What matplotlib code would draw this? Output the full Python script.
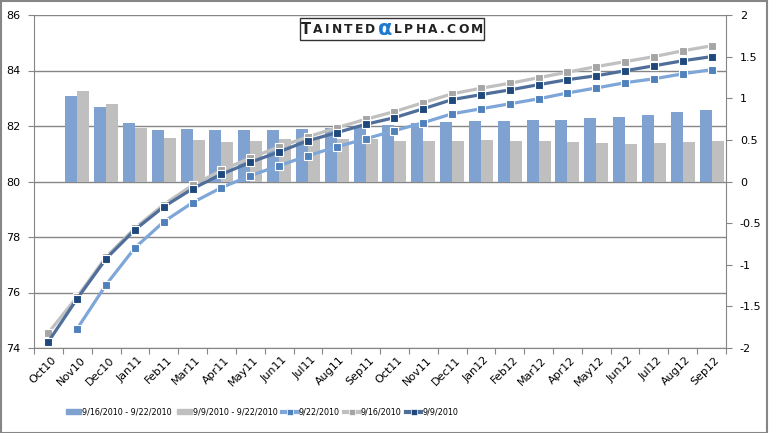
import matplotlib
matplotlib.use("Agg")
from matplotlib import pyplot as plt
from matplotlib import font_manager
from matplotlib.patches import Rectangle, Patch
from matplotlib.lines import Line2D
from matplotlib.offsetbox import TextArea, HPacker, AnnotationBbox
import numpy as np

months = ['Oct10', 'Nov10', 'Dec10', 'Jan11', 'Feb11', 'Mar11', 'Apr11', 'May11',
          'Jun11', 'Jul11', 'Aug11', 'Sep11', 'Oct11', 'Nov11', 'Dec11', 'Jan12',
          'Feb12', 'Mar12', 'Apr12', 'May12', 'Jun12', 'Jul12', 'Aug12', 'Sep12']

# bar series (right axis) - change between dates
chg_16_22 = [np.nan, 1.03, 0.90, 0.70, 0.62, 0.63, 0.62, 0.62, 0.62, 0.63, 0.64, 0.66,
             0.68, 0.70, 0.71, 0.73, 0.73, 0.74, 0.74, 0.76, 0.77, 0.80, 0.83, 0.86]
chg_9_22 = [np.nan, 1.09, 0.93, 0.64, 0.52, 0.50, 0.47, 0.49, 0.51, 0.51, 0.51, 0.51,
            0.49, 0.49, 0.49, 0.50, 0.49, 0.49, 0.47, 0.46, 0.45, 0.46, 0.47, 0.49]

# line series (left axis)
sep22 = [np.nan, 74.70, 76.28, 77.61, 78.55, 79.24, 79.78, 80.21, 80.57, 80.93, 81.25, 81.54,
         81.83, 82.12, 82.44, 82.62, 82.80, 82.98, 83.19, 83.37, 83.56, 83.70, 83.88, 84.03]
sep16 = [74.55, 75.85, 77.28, 78.32, 79.17, 79.87, 80.40, 80.85, 81.25, 81.61, 81.94, 82.24,
         82.52, 82.84, 83.16, 83.36, 83.54, 83.74, 83.94, 84.14, 84.32, 84.50, 84.71, 84.89]
sep9 = [74.23, 75.78, 77.22, 78.26, 79.09, 79.74, 80.26, 80.69, 81.07, 81.47, 81.76, 82.06,
        82.30, 82.62, 82.95, 83.13, 83.30, 83.49, 83.67, 83.81, 83.99, 84.17, 84.35, 84.50]

legend_labels = ['9/16/2010 - 9/22/2010', '9/9/2010 - 9/22/2010', '9/22/2010', '9/16/2010', '9/9/2010']

grid_c = '#868686'
bar_blue = '#7FA2D0'
bar_gray = '#BFBFBF'

# narrow font for the legend if there is one
try:
    font_manager.findfont('Liberation Sans Narrow', fallback_to_default=False)
    leg_font = dict(family='Liberation Sans Narrow', size=7.5)
except Exception:
    leg_font = dict(family='DejaVu Sans', size=5.8)

fig = plt.figure(figsize=(7.69, 4.33), dpi=100)
fig.patch.set_facecolor('white')
pos = [34/769, 1-348/433, 692/769, 333/433]

x = np.arange(len(months))

# background axes: grid only
bg = fig.add_axes(pos, zorder=0)
bg.set_xlim(-0.5, 23.5)
bg.set_ylim(74, 86)
bg.set_yticks(np.arange(74, 87, 2))
bg.yaxis.grid(True, color=grid_c, lw=1)
bg.set_xticks([])
bg.tick_params(left=False, labelleft=False)
for s in bg.spines.values():
    s.set_visible(False)

# bars on right scale
ax2 = fig.add_axes(pos, zorder=1)
ax2.patch.set_visible(False)
w = 0.417
ax2.bar(x - w/2, chg_16_22, w, color=bar_blue)
ax2.bar(x + w/2, chg_9_22, w, color=bar_gray)
ax2.set_xlim(-0.5, 23.5)
ax2.set_ylim(-2, 2)
ax2.set_yticks(np.arange(-2, 2.01, 0.5))
ax2.set_yticklabels(['-2', '-1.5', '-1', '-0.5', '0', '0.5', '1', '1.5', '2'])
ax2.yaxis.tick_right()
ax2.tick_params(axis='y', direction='out', length=4, color=grid_c, labelsize=8, pad=6)
ax2.set_xticks([])
for s in ['left', 'top', 'bottom']:
    ax2.spines[s].set_visible(False)
ax2.spines['right'].set_color(grid_c)

# lines on left scale
ax = fig.add_axes(pos, zorder=2)
ax.patch.set_visible(False)
ax.plot(x, sep22, color='#7FA6D8', lw=2.3, marker='s', ms=5.2, mfc='#4F81BD', mec='white', mew=0.8)
ax.plot(x, sep16, color='#C0C0C0', lw=2.3, marker='s', ms=5.2, mfc='#A5A5A5', mec='white', mew=0.8)
ax.plot(x, sep9, color='#4F6E9A', lw=2.3, marker='s', ms=5.2, mfc='#1F497D', mec='white', mew=0.8)
ax.set_xlim(-0.5, 23.5)
ax.set_ylim(74, 86)
ax.set_yticks(np.arange(74, 87, 2))
ax.tick_params(axis='y', direction='out', length=4, color=grid_c, labelsize=8, pad=6)
ax.set_xticks(np.arange(-0.5, 24, 1))
ax.set_xticklabels([])
ax.set_xticks(x + 0.1, minor=True)
ax.set_xticklabels(months, minor=True, rotation=45, ha='right', va='top',
                   rotation_mode='anchor', fontsize=8)
ax.tick_params(axis='x', which='major', direction='out', length=4, color=grid_c)
ax.tick_params(axis='x', which='minor', length=0, pad=5)
for s in ['top', 'right']:
    ax.spines[s].set_visible(False)
ax.spines['left'].set_color(grid_c)
ax.spines['bottom'].set_color(grid_c)

# watermark
ink = '#222222'
parts = [TextArea('T', textprops=dict(size=10.5, weight='bold', color=ink))]
parts += [TextArea(c, textprops=dict(size=8.8, weight='bold', color=ink)) for c in 'AINTED']
parts += [TextArea('\u03b1', textprops=dict(size=15, weight='bold', color='#1F7BD0'))]
parts += [TextArea(c, textprops=dict(size=8.8, weight='bold', color=ink)) for c in 'LPHA.COM']
pack = HPacker(children=parts, align='center', pad=0, sep=1.6)
ab = AnnotationBbox(pack, (0.517, 0.957), xycoords='axes fraction', frameon=True,
                    box_alignment=(0.5, 0.5), pad=0.08,
                    bboxprops=dict(edgecolor='#333333', facecolor='white', lw=1))
ax.add_artist(ab)

# legend
handles = [Patch(color=bar_blue), Patch(color=bar_gray),
           Line2D([], [], color='#7FA6D8', lw=3, marker='s', ms=4, mfc='#4F81BD', mec='white', mew=0.5),
           Line2D([], [], color='#C0C0C0', lw=3, marker='s', ms=4, mfc='#A5A5A5', mec='white', mew=0.5),
           Line2D([], [], color='#4F6E9A', lw=3, marker='s', ms=4, mfc='#1F497D', mec='white', mew=0.5)]
fig.legend(handles, legend_labels, ncol=5, loc='center', bbox_to_anchor=(262/769, 1-412/433),
           frameon=False, prop=leg_font,
           handlelength=1.9, handleheight=0.5, handletextpad=0.1, columnspacing=0.6)

fig.patches.append(Rectangle((0.001, 0.001), 0.997, 0.996, transform=fig.transFigure,
                             fill=False, edgecolor=grid_c, lw=1.5))

fig.savefig('out.png', dpi=100)
